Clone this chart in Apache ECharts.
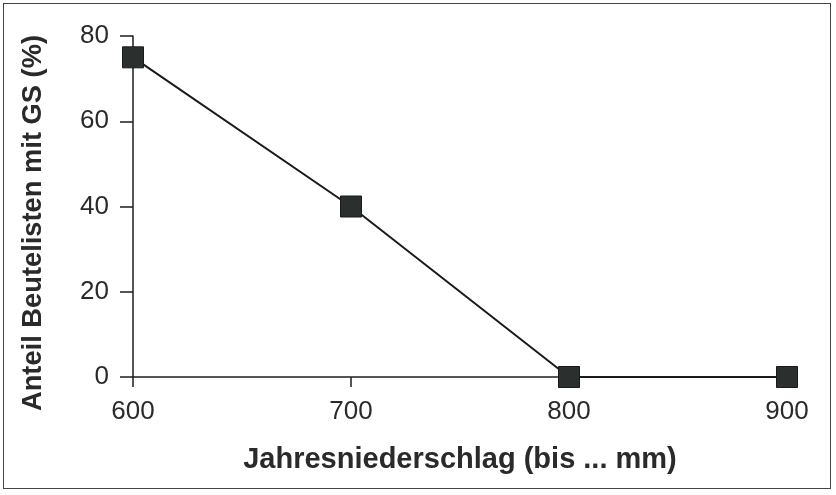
<!DOCTYPE html>
<html><head><meta charset="utf-8">
<script src="https://cdn.jsdelivr.net/npm/echarts@6/dist/echarts.min.js"></script>
<style>
html,body{margin:0;padding:0;background:#fff;}
#wrap{position:absolute;left:3px;top:3px;width:828px;height:486px;border:1.5px solid #444;box-sizing:border-box;}
#c{position:absolute;left:0;top:0;width:836px;height:495px;}
</style></head>
<body>
<div id="wrap"></div>
<div id="c"></div>
<script>
const xValues = [600, 700, 800, 900];
const yValues = [75, 40, 0, 0];
const xTicks = [600, 700, 800, 900];
const yTicks = [0, 20, 40, 60, 80];
const xTitle = 'Jahresniederschlag (bis ... mm)';
const yTitle = 'Anteil Beutelisten mit GS (%)';

const chart = echarts.init(document.getElementById('c'), null, {renderer:'canvas'});
const font = "'Liberation Sans', Arial, sans-serif";
const axisCol = '#1e1e1e';
chart.setOption({
  backgroundColor: 'transparent',
  animation: false,
  grid: {left:133, right:49, top:36, bottom:118, containLabel:false},
  xAxis: {
    type:'value', min:xTicks[0], max:xTicks[xTicks.length-1], interval:100,
    name: xTitle, nameLocation:'middle', nameGap:68,
    nameTextStyle:{fontFamily:font, fontWeight:'bold', fontSize:29, color:'#2a2a2a'},
    axisLine:{show:true, onZero:false, lineStyle:{color:axisCol, width:1.5}},
    axisTick:{show:true, length:10, inside:false, lineStyle:{color:axisCol, width:1.5}},
    axisLabel:{fontFamily:font, fontSize:26, color:'#2a2a2a', margin:22},
    splitLine:{show:false}
  },
  yAxis: {
    type:'value', min:yTicks[0], max:yTicks[yTicks.length-1], interval:20,
    name: yTitle, nameLocation:'middle', nameGap:86, nameRotate:90,
    nameTextStyle:{fontFamily:font, fontWeight:'bold', fontSize:27.3, color:'#2a2a2a', padding:[0,33,0,0]},
    axisLine:{show:true, lineStyle:{color:axisCol, width:1.5}},
    axisTick:{show:true, length:13, inside:false, lineStyle:{color:axisCol, width:1.5}},
    axisLabel:{fontFamily:font, fontSize:26, color:'#2a2a2a', margin:24},
    splitLine:{show:false}
  },
  series: [{
    type:'line',
    data: xValues.map((x,i)=>[x, yValues[i]]),
    symbol:'rect', symbolSize:21,
    itemStyle:{color:'#2b2f2e', borderColor:'#1a1a1a', borderWidth:1},
    lineStyle:{color:'#1a1a1a', width:2},
    z:5
  }]
});
</script>
</body></html>
